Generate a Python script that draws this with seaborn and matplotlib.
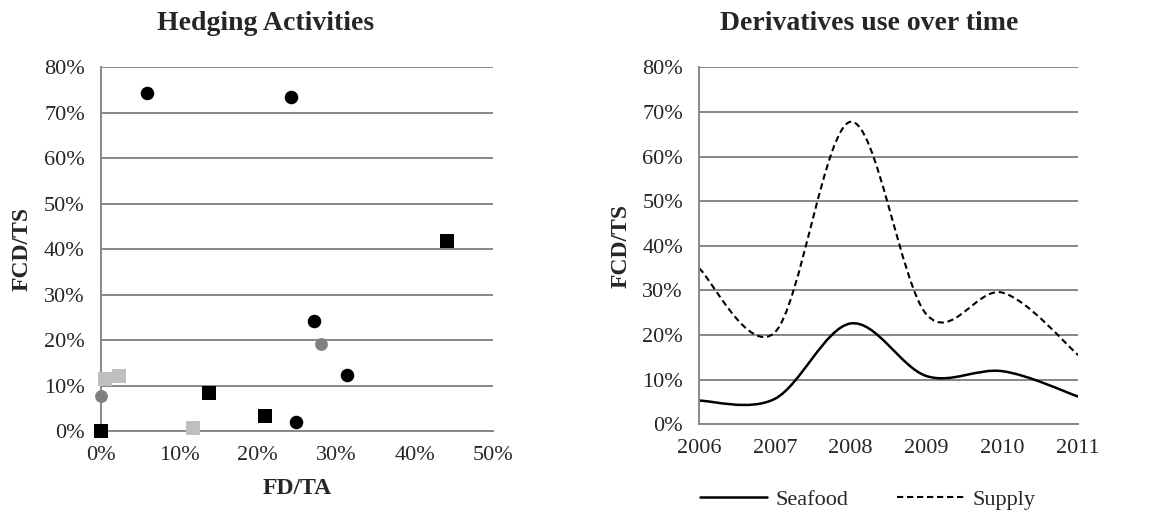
import numpy as np
import pandas as pd
import matplotlib
matplotlib.use("Agg")
import matplotlib.pyplot as plt
import seaborn as sns
from matplotlib.path import Path
from matplotlib.patches import PathPatch
from matplotlib.lines import Line2D
from matplotlib.ticker import PercentFormatter

# Hedging activities (scatter), values in %
black_circle_x = [5.9, 24.2, 27.2, 31.4, 24.9]
black_circle_y = [74.3, 73.5, 24.2, 12.3, 1.9]
gray_circle_x = [28.0, 0.0]
gray_circle_y = [19.1, 7.8]
black_square_x = [44.1, 13.8, 20.9, 0.0]
black_square_y = [41.8, 8.3, 3.3, 0.0]
light_square_x = [0.5, 2.3, 11.7]
light_square_y = [11.4, 12.2, 0.7]

# Derivatives use over time, values in %
years = [2006, 2007, 2008, 2009, 2010, 2011]
seafood = [5.3, 5.7, 22.6, 10.8, 11.9, 6.2]
supply = [35.0, 20.6, 67.8, 24.6, 29.5, 15.5]

sns.set_style("white")
plt.rcParams["font.family"] = ["Liberation Serif", "DejaVu Serif"]

GRID = "#878787"
TICK_FS = 16
LABEL_FS = 17
TITLE_FS = 20
DASH = (0, (3, 1.8))


def smooth_path(xs, ys):
    # Excel-style smoothed line: cubic Bezier through every data point
    pts = np.column_stack([xs, ys]).astype(float)
    n = len(pts)
    verts = [pts[0]]
    codes = [Path.MOVETO]
    for i in range(n - 1):
        p_prev = pts[max(i - 1, 0)]
        p0, p1 = pts[i], pts[i + 1]
        p_next = pts[min(i + 2, n - 1)]
        c1 = p0 + (p1 - p_prev) / 6
        c2 = p1 - (p_next - p0) / 6
        verts += [c1, c2, p1]
        codes += [Path.CURVE4] * 3
    return Path(verts, codes)


def style_axes(ax):
    ax.grid(axis="y", color=GRID, linewidth=1.4)
    ax.grid(axis="x", visible=False)
    ax.set_axisbelow(True)
    for side in ["top", "right"]:
        ax.spines[side].set_visible(False)
    for side in ["left", "bottom"]:
        ax.spines[side].set_color(GRID)
        ax.spines[side].set_linewidth(1.4)
    ax.tick_params(axis="both", direction="out", length=4.5, width=1.2,
                   color=GRID, labelsize=TICK_FS)
    ax.tick_params(axis="y", pad=7)
    ax.tick_params(axis="x", pad=6)
    ax.yaxis.set_major_formatter(PercentFormatter(decimals=0))


fig = plt.figure(figsize=(11.54, 5.19), dpi=100)

# Left: scatter
ax1 = fig.add_axes([0.0873, 0.1696, 0.3402, 0.7007])
df = pd.DataFrame({
    "x": black_circle_x + gray_circle_x + black_square_x + light_square_x,
    "y": black_circle_y + gray_circle_y + black_square_y + light_square_y,
    "group": (["A"] * len(black_circle_x) + ["B"] * len(gray_circle_x)
              + ["C"] * len(black_square_x) + ["D"] * len(light_square_x)),
})
palette = {"A": "black", "B": "#808080", "C": "black", "D": "#bfbfbf"}
markers = {"A": "o", "B": "o", "C": "s", "D": "s"}
sizes = {"A": 95, "B": 85, "C": 110, "D": 110}
for g, sub in df.groupby("group"):
    sns.scatterplot(data=sub, x="x", y="y", color=palette[g], marker=markers[g],
                    s=sizes[g], linewidth=0, ax=ax1, clip_on=False, zorder=3)
ax1.set_xlim(0, 50)
ax1.set_ylim(0, 80)
ax1.set_xticks(np.arange(0, 51, 10))
ax1.set_yticks(np.arange(0, 81, 10))
style_axes(ax1)
ax1.xaxis.set_major_formatter(PercentFormatter(decimals=0))
ax1.set_xlabel("FD/TA", fontsize=LABEL_FS, fontweight="bold", labelpad=10)
ax1.set_ylabel("FCD/TS", fontsize=LABEL_FS, fontweight="bold", labelpad=8)

# Right: smoothed lines over time
ax2 = fig.add_axes([0.6057, 0.1825, 0.3287, 0.6878])
ax2.add_patch(PathPatch(smooth_path(years, seafood), fill=False,
                        edgecolor="black", linewidth=1.8))
ax2.add_patch(PathPatch(smooth_path(years, supply), fill=False,
                        edgecolor="black", linewidth=1.5, linestyle=DASH))
ax2.set_xlim(2006, 2011)
ax2.set_ylim(0, 80)
ax2.set_xticks(years)
ax2.set_yticks(np.arange(0, 81, 10))
style_axes(ax2)
ax2.set_xlabel("")
ax2.set_ylabel("FCD/TS", fontsize=LABEL_FS, fontweight="bold", labelpad=8)

handles = [Line2D([], [], color="black", linewidth=1.8),
           Line2D([], [], color="black", linewidth=1.5, linestyle=DASH)]
fig.legend(handles, ["Seafood", "Supply"], loc="center", ncol=2,
           bbox_to_anchor=(0.752, 0.037), frameon=False, fontsize=TICK_FS,
           handlelength=3.0, handletextpad=0.4, columnspacing=2.2)

fig.text(0.2305, 0.955, "Hedging Activities", ha="center", va="center",
         fontsize=TITLE_FS, fontweight="bold")
fig.text(0.7535, 0.955, "Derivatives use over time", ha="center", va="center",
         fontsize=TITLE_FS, fontweight="bold")

fig.savefig("out.png", dpi=100)
